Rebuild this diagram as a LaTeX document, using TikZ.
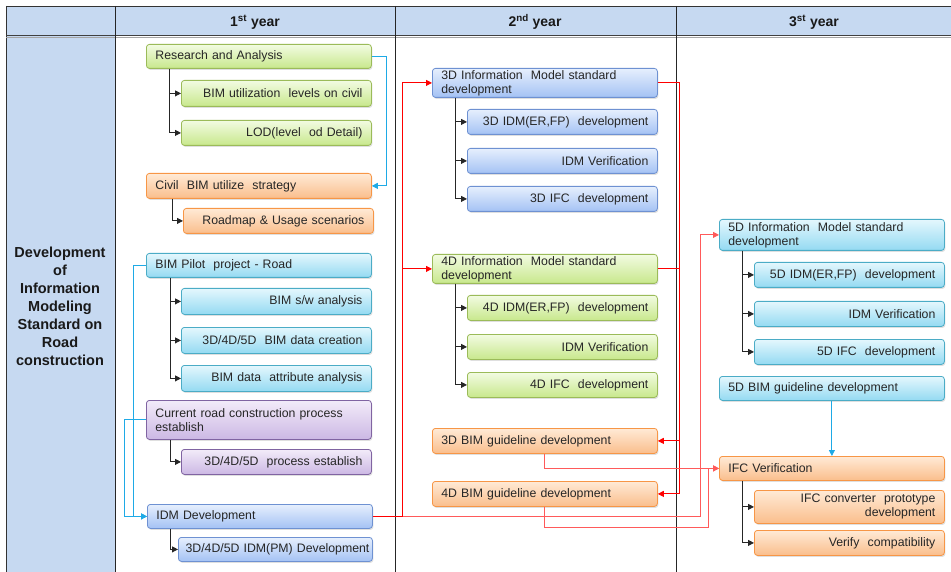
\documentclass[tikz,border=0pt]{standalone}
\usepackage{fontspec}
\setmainfont{Liberation Sans}
\usetikzlibrary{arrows.meta,shadows,calc}
\definecolor{hdr}{RGB}{198,217,241}
\definecolor{gD}{RGB}{155,187,89}\definecolor{gT}{RGB}{242,251,226}\definecolor{gB}{RGB}{200,232,140}
\definecolor{oD}{RGB}{247,150,70}\definecolor{oT}{RGB}{255,234,214}\definecolor{oB}{RGB}{250,190,140}
\definecolor{cD}{RGB}{75,172,198}\definecolor{cT}{RGB}{228,247,253}\definecolor{cB}{RGB}{148,218,242}
\definecolor{pD}{RGB}{128,100,162}\definecolor{pT}{RGB}{242,235,249}\definecolor{pB}{RGB}{204,184,228}
\definecolor{bD}{RGB}{110,145,210}\definecolor{bT}{RGB}{230,239,253}\definecolor{bB}{RGB}{164,194,244}
\definecolor{cyl}{RGB}{30,170,230}
\tikzset{
  bx/.style={rounded corners=3pt, line width=0.8pt, anchor=north west, inner xsep=9pt, inner ysep=1pt,
    font=\fontsize{12.3}{14}\selectfont, text=black!85,
    drop shadow={opacity=0.25,shadow xshift=1pt,shadow yshift=-1.5pt}},
  gr/.style={bx, draw=gD, top color=gT, bottom color=gB},
  og/.style={bx, draw=oD, top color=oT, bottom color=oB},
  cy/.style={bx, draw=cD, top color=cT, bottom color=cB},
  pu/.style={bx, draw=pD, top color=pT, bottom color=pB},
  bl/.style={bx, draw=bD, top color=bT, bottom color=bB},
  P/.style={minimum width=225pt, text width=207pt, align=left, minimum height=#1},
  P/.default=25pt,
  C/.style={minimum width=190pt, text width=172pt, align=right, minimum height=#1},
  C/.default=25pt,
  tr/.style={draw=black!85, line width=0.9pt, -{Triangle[length=6pt,width=6pt]}},
  cyc/.style={draw=cyl, line width=0.9pt, -{Triangle[length=6pt,width=6pt]}},
  rd/.style={draw=red, line width=0.9pt, -{Triangle[length=6pt,width=6pt]}},
  rdl/.style={draw={rgb,255:red,255;green,90;blue,90}, line width=0.9pt, -{Triangle[length=6pt,width=6pt]}},
  hd/.style={font=\bfseries\fontsize{14}{16}\selectfont, text=black!90},
}
\begin{document}
\begin{tikzpicture}[x=1pt,y=-1pt]
\useasboundingbox (0,0) rectangle (951,572);
% table
\fill[hdr] (6,6) rectangle (951,36);
\fill[hdr] (6,36) rectangle (115,572);
\draw[black!80, line width=0.8pt] (6,6) -- (951,6);
\draw[black!80, line width=0.8pt] (6,6) -- (6,572);
\draw[black!75, line width=1pt] (6,36) -- (951,36);
\draw[black!35, line width=1pt] (6,37.5) -- (951,37.5);
\draw[black!85, line width=0.8pt] (115,6) -- (115,572);
\draw[black!85, line width=0.8pt] (395,6) -- (395,572);
\draw[black!85, line width=0.8pt] (676,6) -- (676,572);
\node[hd] (h1) at (255,22) {1\textsuperscript{st} year};
\node[hd] (h2) at (535,22) {2\textsuperscript{nd} year};
\node[hd] (h3) at (814,22) {3\textsuperscript{st} year};
\node[align=center, font=\bfseries\fontsize{14.5}{18}\selectfont, text=black!90] (lt) at (60,306)
  {Development\\of\\Information\\Modeling\\Standard on\\Road\\construction};
% column 1
\node[gr, P=24pt] (ra) at (146,44) {Research and Analysis};
\node[gr, C=26pt] (bu) at (181,80) {BIM utilization \ levels on civil};
\node[gr, C] (lod) at (181,120) {LOD(level \ od Detail)};
\node[og, P] (cs) at (146,173) {Civil \ BIM utilize \ strategy};
\node[og, C] (rm) at (183,208) {Roadmap \& Usage scenarios};
\node[cy, P=24pt] (bp) at (146,253) {BIM Pilot \ project - Road};
\node[cy, C=26pt] (sw) at (181,288) {BIM s/w analysis};
\node[cy, C=26pt] (dc) at (181,327) {3D/4D/5D \ BIM data creation};
\node[cy, C=26pt] (da) at (181,365) {BIM data \ attribute analysis};
\node[pu, P=39pt] (cr) at (146,400) {Current road construction process\\establish};
\node[pu, C] (pe) at (181,449) {3D/4D/5D \ process establish};
\node[bl, P=24pt] (idm) at (147,504) {IDM Development};
\node[bl, C=24pt, minimum width=194pt, text width=188pt, inner xsep=3pt] (ipm) at (178,537) {3D/4D/5D IDM(PM) Development};
% column 2
\node[bl, P=29pt, minimum width=224pt] (i3) at (432,68) {3D Information \ Model standard\\development};
\node[bl, C, minimum width=189pt] (i3a) at (467,109) {3D IDM(ER,FP) \ development};
\node[bl, C, minimum width=189pt] (i3b) at (467,148) {IDM Verification};
\node[bl, C, minimum width=189pt] (i3c) at (467,186) {3D IFC \ development};
\node[gr, P=29pt, minimum width=224pt] (i4) at (432,254) {4D Information \ Model standard\\development};
\node[gr, C, minimum width=189pt] (i4a) at (467,295) {4D IDM(ER,FP) \ development};
\node[gr, C, minimum width=189pt] (i4b) at (467,334) {IDM Verification};
\node[gr, C, minimum width=189pt] (i4c) at (467,372) {4D IFC \ development};
\node[og, P, minimum width=224pt] (g3) at (432,428) {3D BIM guideline development};
\node[og, P, minimum width=224pt] (g4) at (432,481) {4D BIM guideline development};
% column 3
\node[cy, P=31pt, minimum width=224pt] (i5) at (719,219) {5D Information \ Model standard\\development};
\node[cy, C, minimum width=189pt] (i5a) at (754,262) {5D IDM(ER,FP) \ development};
\node[cy, C, minimum width=189pt] (i5b) at (754,301) {IDM Verification};
\node[cy, C, minimum width=189pt] (i5c) at (754,339) {5D IFC \ development};
\node[cy, P=24pt, minimum width=224pt] (g5) at (719,376) {5D BIM guideline development};
\node[og, P=24pt, minimum width=224pt] (ifv) at (719,456) {IFC Verification};
\node[og, C=33pt, minimum width=189pt] (ifc) at (754,490) {IFC converter \ prototype\\development};
\node[og, C, minimum width=189pt] (vc) at (754,530) {Verify \ compatibility};
% tree connectors
\draw[tr] ([xshift=23pt]ra.south west) |- (bu.west);
\draw[tr] ([xshift=23pt]ra.south west) |- (lod.west);
\draw[tr] ([xshift=26pt]cs.south west) |- (rm.west);
\draw[tr] ([xshift=24pt]bp.south west) |- (sw.west);
\draw[tr] ([xshift=24pt]bp.south west) |- (dc.west);
\draw[tr] ([xshift=24pt]bp.south west) |- (da.west);
\draw[tr] ([xshift=24pt]cr.south west) |- (pe.west);
\draw[tr] ([xshift=23pt]idm.south west) |- (ipm.west);
\draw[tr] ([xshift=23pt]i3.south west) |- (i3a.west);
\draw[tr] ([xshift=23pt]i3.south west) |- (i3b.west);
\draw[tr] ([xshift=23pt]i3.south west) |- (i3c.west);
\draw[tr] ([xshift=23pt]i4.south west) |- (i4a.west);
\draw[tr] ([xshift=23pt]i4.south west) |- (i4b.west);
\draw[tr] ([xshift=23pt]i4.south west) |- (i4c.west);
\draw[tr] ([xshift=23pt]i5.south west) |- (i5a.west);
\draw[tr] ([xshift=23pt]i5.south west) |- (i5b.west);
\draw[tr] ([xshift=23pt]i5.south west) |- (i5c.west);
\draw[tr] ([xshift=23pt]ifv.south west) |- (ifc.west);
\draw[tr] ([xshift=23pt]ifv.south west) |- (vc.west);
% cyan connectors
\draw[cyc] (ra.east) -- ++(15,0) |- (cs.east);
\draw[cyc] (bp.west) -- ++(-13,0) |- (idm.west);
\draw[cyc] (cr.west) -- ++(-22,0) |- (idm.west);
\draw[cyc] (g5.south) -- (ifv.north);
% red connectors
\draw[rdl] (idm.east) -| ([xshift=-19pt]i5.west) -- (i5.west);
\draw[rd] (idm.east) -- ++(30,0) |- (i3.west);
\draw[rd] (idm.east) -- ++(30,0) |- (i4.west);
\draw[rd] (i3.east) -- ++(22,0) |- (g3.east);
\draw[rd] (i4.east) -- ++(22,0) |- (g4.east);
\draw[rdl] (g3.south) |- (ifv.west);
\draw[rdl] (g4.south) -- ++(0,21) -| ([xshift=-11pt]ifv.west) -- (ifv.west);
\end{tikzpicture}
\end{document}
